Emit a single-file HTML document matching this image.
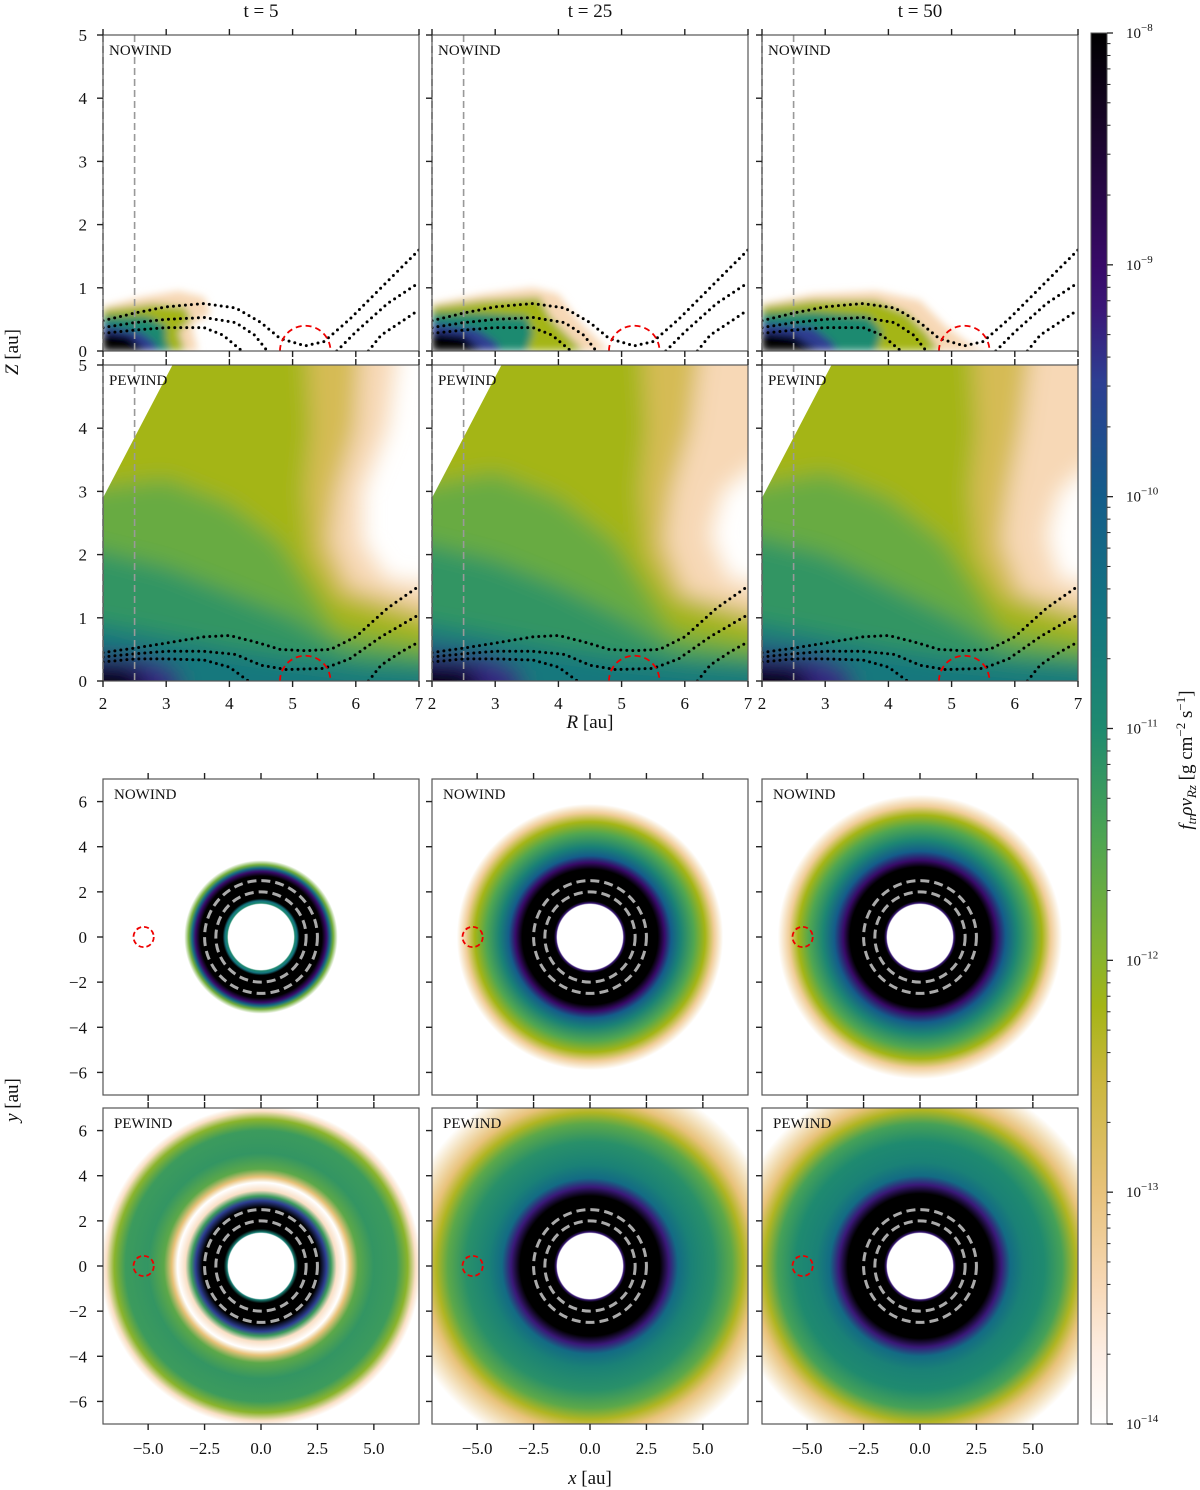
<!DOCTYPE html>
<html><head><meta charset="utf-8">
<style>
html,body{margin:0;padding:0;background:#fff;}
svg{display:block;font-family:"Liberation Serif","DejaVu Serif",serif;}
svg text{font-family:"Liberation Serif","DejaVu Serif",serif;}
</style></head>
<body>
<svg id="fig" xmlns="http://www.w3.org/2000/svg" width="1200" height="1490" viewBox="0 0 1200 1490">
<defs>
<filter id="blur" x="-20%" y="-20%" width="140%" height="140%"><feGaussianBlur stdDeviation="4"/></filter>
<filter id="blur3" x="-20%" y="-20%" width="140%" height="140%"><feGaussianBlur stdDeviation="11"/></filter>
</defs>
</svg>
<script>
// ---------- data ----------
var times = ["t = 5","t = 25","t = 50"];
var rTicks = [2,3,4,5,6,7];
var zTicks = [0,1,2,3,4,5];
var xTicks = [-5.0,-2.5,0.0,2.5,5.0];
var yTicks = [-6,-4,-2,0,2,4,6];
var cbarExp = [-8,-9,-10,-11,-12,-13,-14];
var planetR = 5.2, planetRad = 0.4, planetFaceRad = 0.45;
var guideR = [2.0,2.5];
// NOWIND RZ layers per time: [logValue, polygon (R,Z)]
var nowindLayers = [
 [[-13.4,[[2,0],[2,0.7],[2.6,0.85],[3.2,0.95],[3.6,0.85],[3.7,0.6],[3.4,0.4],[3.5,0]]],
  [-12.2,[[2,0],[2,0.65],[2.8,0.75],[3.3,0.7],[3.4,0.5],[3.2,0.3],[3.3,0]]],
  [-11,[[2,0],[2,0.55],[2.7,0.55],[3.0,0.4],[3.0,0.15],[3.1,0]]],
  [-9.5,[[2,0],[2,0.42],[2.6,0.3],[2.8,0.15],[2.9,0]]],
  [-8,[[2,0],[2,0.3],[2.4,0.25],[2.7,0]]]],
 [[-13.4,[[2,0],[2,0.75],[2.8,0.9],[3.6,1.0],[4.0,0.9],[4.3,0.5],[4.6,0.2],[4.8,0]]],
  [-12.2,[[2,0],[2,0.7],[2.8,0.8],[3.7,0.85],[3.9,0.5],[4.2,0.2],[4.4,0]]],
  [-11,[[2,0],[2,0.6],[2.7,0.6],[3.5,0.55],[3.6,0.3],[3.5,0]]],
  [-9.5,[[2,0],[2,0.45],[2.7,0.35],[3.0,0.15],[3.1,0]]],
  [-8,[[2,0],[2,0.3],[2.5,0.25],[2.8,0]]]],
 [[-13.4,[[2,0],[2,0.75],[2.8,0.9],[3.8,0.95],[4.5,0.8],[4.9,0.4],[5.3,0.1],[5.6,0]]],
  [-12.2,[[2,0],[2,0.7],[2.8,0.8],[3.8,0.8],[4.3,0.6],[4.6,0.3],[4.8,0]]],
  [-11,[[2,0],[2,0.6],[2.8,0.62],[3.7,0.55],[3.9,0.3],[3.8,0]]],
  [-9.5,[[2,0],[2,0.45],[2.8,0.38],[3.1,0.15],[3.2,0]]],
  [-8,[[2,0],[2,0.3],[2.5,0.25],[2.9,0]]]]
];
// PEWIND RZ layers
var pewindLayers = [
 [[-13.4,[[2,0],[2,5],[6.7,5],[6.5,4],[6.1,3],[6.1,2.2],[6.5,1.6],[7,1.5],[7,0]]],
  [-12.7,[[2,0],[2,5],[6.1,5],[6.0,4],[5.7,3],[5.6,2.2],[5.9,1.5],[7,1.0],[7,0]]],
  [-12.2,[[2,0],[2,5],[5.2,5],[5.3,4],[5.2,3],[5.3,2],[5.7,1.3],[7,0.8],[7,0]]],
  [-11.7,[[2,0],[2,3.0],[3,3.2],[4,2.8],[4.8,2.2],[5.3,1.4],[5.7,0.8],[7,0.5],[7,0]]],
  [-11.2,[[2,0],[2,2.2],[3,1.8],[4,1.4],[5,1.0],[5.8,0.5],[7,0.3],[7,0]]],
  [-13.5,[[3.3,0],[3.4,0.25],[3.8,0.3],[3.9,0.1],[3.8,0]]],
  [-10.6,[[2,0],[2,1.0],[3,0.7],[4,0.5],[5,0.35],[6.2,0.2],[7,0.15],[7,0]]],
  [-9.3,[[2,0],[2,0.5],[2.7,0.38],[3.2,0.15],[3.3,0]]],
  [-8,[[2,0],[2,0.3],[2.5,0.22],[2.9,0]]]],
 [[-13.4,[[2,0],[2,5],[7,5],[7,3.8],[6.6,3],[6.4,2.3],[6.7,1.6],[7,1.5],[7,0]]],
  [-12.7,[[2,0],[2,5],[6.3,5],[6.1,4],[5.8,3],[5.7,2.2],[6.0,1.4],[7,1.0],[7,0]]],
  [-12.2,[[2,0],[2,5],[5.3,5],[5.4,4],[5.3,3],[5.4,2],[5.8,1.3],[7,0.8],[7,0]]],
  [-11.7,[[2,0],[2,3.0],[3,3.3],[4,2.9],[4.9,2.2],[5.4,1.4],[5.8,0.8],[7,0.5],[7,0]]],
  [-11.2,[[2,0],[2,2.3],[3,1.9],[4,1.5],[5,1.0],[5.8,0.5],[7,0.3],[7,0]]],
  [-10.6,[[2,0],[2,1.0],[3,0.7],[4,0.5],[5,0.35],[6.2,0.25],[7,0.2],[7,0]]],
  [-9.3,[[2,0],[2,0.55],[2.9,0.4],[3.4,0.15],[3.5,0]]],
  [-8,[[2,0],[2,0.3],[2.6,0.22],[3.0,0]]]],
 [[-13.4,[[2,0],[2,5],[7,5],[7,3.8],[6.7,3],[6.5,2.3],[6.7,1.6],[7,1.5],[7,0]]],
  [-12.7,[[2,0],[2,5],[6.3,5],[6.1,4],[5.9,3],[5.8,2.2],[6.1,1.4],[7,1.0],[7,0]]],
  [-12.2,[[2,0],[2,5],[5.3,5],[5.4,4],[5.3,3],[5.4,2],[5.8,1.3],[7,0.8],[7,0]]],
  [-11.7,[[2,0],[2,3.0],[3,3.3],[4,2.9],[4.9,2.2],[5.4,1.4],[5.8,0.8],[7,0.5],[7,0]]],
  [-11.2,[[2,0],[2,2.4],[3,2.0],[4,1.5],[5,1.0],[5.8,0.5],[7,0.3],[7,0]]],
  [-10.6,[[2,0],[2,1.0],[3,0.7],[4,0.5],[5,0.35],[6.2,0.25],[7,0.2],[7,0]]],
  [-9.3,[[2,0],[2,0.55],[2.9,0.4],[3.4,0.15],[3.5,0]]],
  [-8,[[2,0],[2,0.3],[2.6,0.22],[3.0,0]]]]
];
var pewindDomain = [[2,0],[2,2.9],[3.1,5],[7,5],[7,0]];
// magnetic field lines (R,Z), dotted
var fieldNowind = [
 [[2,0.48],[2.5,0.6],[3,0.7],[3.6,0.75],[4.1,0.68],[4.5,0.45],[4.8,0.2],[5.2,0.08],[5.5,0.15],[5.9,0.5],[6.4,1.0],[7,1.6]],
 [[2,0.37],[2.5,0.45],[3,0.5],[3.6,0.53],[4.1,0.45],[4.4,0.25],[4.6,0]],
 [[5.7,0],[6.0,0.3],[6.5,0.75],[7,1.08]],
 [[2,0.28],[2.5,0.33],[3,0.37],[3.6,0.37],[3.9,0.25],[4.2,0]],
 [[6.2,0],[6.4,0.25],[6.7,0.45],[7,0.65]]
];
var fieldPewind = [
 [[2,0.45],[2.5,0.52],[3,0.6],[3.6,0.7],[4.0,0.72],[4.4,0.62],[4.8,0.5],[5.2,0.48],[5.6,0.5],[6.0,0.7],[6.5,1.15],[7,1.5]],
 [[2,0.38],[2.5,0.43],[3,0.47],[3.6,0.47],[4.1,0.42],[4.5,0.25],[4.9,0.18],[5.5,0.2],[5.9,0.35],[6.4,0.7],[7,1.05]],
 [[2,0.3],[2.5,0.35],[3,0.35],[3.6,0.33],[4.0,0.22],[4.3,0]],
 [[6.2,0],[6.4,0.25],[6.7,0.45],[7,0.62]]
];
// face-on radial profiles: [radius au, log value]
var faceNowind = [
 [[0,-14],[1.45,-14],[1.5,-11],[1.6,-10.5],[1.7,-8],[2.7,-8],[2.9,-9],[3.05,-10.3],[3.2,-11.8],[3.4,-14],[7.5,-14]],
 [[0,-14],[1.45,-14],[1.5,-9.2],[1.6,-8],[3.0,-8],[3.3,-9],[3.6,-10],[4.0,-10.8],[4.6,-11.5],[5.1,-12.2],[5.5,-13.2],[5.9,-14],[7.5,-14]],
 [[0,-14],[1.45,-14],[1.5,-9.2],[1.6,-8],[3.1,-8],[3.4,-9],[3.8,-10],[4.3,-10.9],[4.9,-11.5],[5.4,-12.2],[5.8,-13.2],[6.3,-14],[7.5,-14]]
];
var facePewind = [
 [[0,-14],[1.45,-14],[1.5,-10.8],[1.65,-8],[2.6,-8],[2.9,-9.5],[3.1,-11.3],[3.35,-13.5],[3.7,-14],[3.95,-13],[4.3,-11.6],[5,-11.2],[6,-11.3],[6.5,-12],[6.85,-13.5],[7.1,-14],[7.5,-14]],
 [[0,-14],[1.45,-14],[1.5,-9.2],[1.6,-8],[3.1,-8],[3.5,-9.2],[3.9,-10.3],[4.5,-10.8],[5.5,-11.1],[6.3,-11.6],[6.8,-12.3],[7.3,-13],[8.5,-14]],
 [[0,-14],[1.45,-14],[1.5,-9.2],[1.6,-8],[3.2,-8],[3.6,-9.2],[4.0,-10.3],[4.6,-10.8],[5.5,-11.0],[6.3,-11.4],[6.9,-12.3],[7.4,-13],[8.5,-14]]
];
var cmapT = [0,0.05,0.1,0.167,0.25,0.3,0.333,0.42,0.5,0.58,0.667,0.75,0.8,0.833,0.92,1];
var cmapC = ["#ffffff","#fdeee4","#f7d8b6","#e8c27a","#c9b63a","#a4b516","#8ab42c","#4ea552","#1f8a6f","#137580","#145d8a","#2d3e92","#3a1878","#380a68","#1c0630","#000000"];

// ---------- helpers ----------
var NS="http://www.w3.org/2000/svg", svg=document.getElementById('fig'), defs=svg.querySelector('defs');
function mk(tag,attrs,parent){var e=document.createElementNS(NS,tag);for(var k in attrs)e.setAttribute(k,attrs[k]);(parent||svg).appendChild(e);return e;}
function hex(c){return [parseInt(c.substr(1,2),16),parseInt(c.substr(3,2),16),parseInt(c.substr(5,2),16)];}
function cmap(e){var t=Math.max(0,Math.min(1,(e+14)/6));for(var i=1;i<cmapT.length;i++){if(t<=cmapT[i]){var f=(t-cmapT[i-1])/(cmapT[i]-cmapT[i-1]);var a=hex(cmapC[i-1]),b=hex(cmapC[i]);return 'rgb('+[0,1,2].map(function(j){return Math.round(a[j]+(b[j]-a[j])*f);}).join(',')+')';}}return cmapC[cmapC.length-1];}
function txt(s,x,y,attrs,parent){var t=mk('text',Object.assign({x:x,y:y,'font-size':17,fill:'#111','font-family':'Liberation Serif, serif'},attrs||{}),parent);t.textContent=s;return t;}

var colX=[103,432,762], PW=316;
var rzTop=[35,365], xyTop=[779,1108], PH=316;
function rzScale(c,r){var x0=colX[c],y0=rzTop[r];return {x:function(R){return x0+(R-2)/5*PW;},y:function(Z){return y0+PH-Z/5*PH;}};}
function xyScale(c,r){var x0=colX[c],y0=xyTop[r];return {x:function(X){return x0+(X+7)/14*PW;},y:function(Y){return y0+PH-(Y+7)/14*PH;},k:PW/14};}
function pts(arr,s){return arr.map(function(p){return s.x(p[0]).toFixed(1)+','+s.y(p[1]).toFixed(1);}).join(' ');}
// extend polygon vertices lying on the domain edge so blur does not fade at edges
function ext(arr){return arr.map(function(p){var R=p[0],Z=p[1];if(R<=2)R=1.4;if(R>=7)R=7.6;if(Z<=0)Z=-0.6;if(Z>=5)Z=5.6;return [R,Z];});}

// ---------- titles ----------
times.forEach(function(t,c){
  var e=txt(t,colX[c]+PW/2,17,{'text-anchor':'middle','font-size':19});
  
  
});

// ---------- RZ panels ----------
for(var r=0;r<2;r++){for(var c=0;c<3;c++){
  var s=rzScale(c,r), g=mk('g',{});
  
  
  var cid='clip-rz-'+r+'-'+c, cp=mk('clipPath',{id:cid},defs);
  if(r==0) mk('rect',{x:colX[c],y:rzTop[r],width:PW,height:PH},cp);
  else mk('polygon',{points:pts(pewindDomain,s)},cp);
  var fg=mk('g',{'clip-path':'url(#'+cid+')'},g);
  var inner=mk('g',{filter:r==0?'url(#blur)':'url(#blur3)'},fg);
  var layers=(r==0?nowindLayers:pewindLayers)[c];
  layers.forEach(function(L,i){
    var p=mk('polygon',{points:pts(r==0?L[1]:ext(L[1]),s),fill:cmap(L[0])},inner);
    
    
  });
  guideR.forEach(function(R){var l=mk('line',{x1:s.x(R),x2:s.x(R),y1:rzTop[r],y2:rzTop[r]+PH,stroke:'#999','stroke-width':1.6,'stroke-dasharray':'7,4'},g);
    
    });
  (r==0?fieldNowind:fieldPewind).forEach(function(f){
    var pl=mk('polyline',{points:pts(f,s),fill:'none',stroke:'#000','stroke-width':3,'stroke-dasharray':'0,6','stroke-linecap':'round','stroke-linejoin':'round'},fg);
    
    
  });
  var rx=planetRad/5*PW, ry=planetRad/5*PH;
  var ph=mk('path',{d:'M'+(s.x(planetR)-rx)+','+s.y(0)+' A'+rx+','+ry+' 0 0 1 '+(s.x(planetR)+rx)+','+s.y(0),fill:'none',stroke:'#e00','stroke-width':1.8,'stroke-dasharray':'6,4'},fg);
  
  
  var fr=mk('rect',{x:colX[c],y:rzTop[r],width:PW,height:PH,fill:'none',stroke:'#555','stroke-width':1.2},g);
  
  
  var lb=txt(r==0?'NOWIND':'PEWIND',colX[c]+6,rzTop[r]+20,{'font-size':15},g);
  
  
  rTicks.forEach(function(R){
    mk('line',{x1:s.x(R),x2:s.x(R),y1:rzTop[r]+PH,y2:rzTop[r]+PH+6,stroke:'#222','stroke-width':1.4},g);
    mk('line',{x1:s.x(R),x2:s.x(R),y1:rzTop[r],y2:rzTop[r]-6,stroke:'#222','stroke-width':1.4},g);
    if(r==1){var tl=txt(String(R),s.x(R),rzTop[r]+PH+28,{'text-anchor':'middle'},g);
      
      }
  });
  zTicks.forEach(function(Z){
    mk('line',{x1:colX[c],x2:colX[c]-6,y1:s.y(Z),y2:s.y(Z),stroke:'#222','stroke-width':1.4},g);
    if(c==0){var tl=txt(String(Z),colX[c]-16,s.y(Z)+6,{'text-anchor':'end'},g);
      
      }
  });
}}

// ---------- XY panels ----------
for(var r=0;r<2;r++){for(var c=0;c<3;c++){
  var s=xyScale(c,r), g=mk('g',{});
  
  
  var cid='clip-xy-'+r+'-'+c, cp=mk('clipPath',{id:cid},defs);
  mk('rect',{x:colX[c],y:xyTop[r],width:PW,height:PH},cp);
  var fg=mk('g',{'clip-path':'url(#'+cid+')'},g);
  var prof=(r==0?faceNowind:facePewind)[c];
  var Rmax=prof[prof.length-1][0];
  var gid='rg-'+r+'-'+c, rg=mk('radialGradient',{id:gid,cx:s.x(0),cy:s.y(0),r:Rmax*s.k,gradientUnits:'userSpaceOnUse'},defs);
  prof.forEach(function(p){mk('stop',{offset:(p[0]/Rmax).toFixed(4),'stop-color':cmap(p[1])},rg);});
  var disk=mk('circle',{cx:s.x(0),cy:s.y(0),r:Rmax*s.k,fill:'url(#'+gid+')'},fg);
  
  
  guideR.forEach(function(R){var ci=mk('circle',{cx:s.x(0),cy:s.y(0),r:R*s.k,fill:'none',stroke:'#aaa','stroke-width':3,'stroke-dasharray':'9,5'},fg);
    
    });
  var pc=mk('circle',{cx:s.x(-planetR),cy:s.y(0),r:planetFaceRad*s.k,fill:'none',stroke:'#e00','stroke-width':1.8,'stroke-dasharray':'5,3'},fg);
  
  
  var fr=mk('rect',{x:colX[c],y:xyTop[r],width:PW,height:PH,fill:'none',stroke:'#555','stroke-width':1.2},g);
  
  
  var lb=txt(r==0?'NOWIND':'PEWIND',colX[c]+11,xyTop[r]+20,{'font-size':15},g);
  
  
  xTicks.forEach(function(X){
    mk('line',{x1:s.x(X),x2:s.x(X),y1:xyTop[r]+PH,y2:xyTop[r]+PH+6,stroke:'#222','stroke-width':1.4},g);
    mk('line',{x1:s.x(X),x2:s.x(X),y1:xyTop[r],y2:xyTop[r]-6,stroke:'#222','stroke-width':1.4},g);
    if(r==1){var tl=txt(X.toFixed(1).replace('-','\u2212'),s.x(X),xyTop[r]+PH+30,{'text-anchor':'middle'},g);
      
      }
  });
  yTicks.forEach(function(Y){
    mk('line',{x1:colX[c],x2:colX[c]-6,y1:s.y(Y),y2:s.y(Y),stroke:'#222','stroke-width':1.4},g);
    if(c==0){var tl=txt(String(Y).replace('-','\u2212'),colX[c]-16,s.y(Y)+6,{'text-anchor':'end'},g);
      
      }
  });
}}

// ---------- axis titles ----------
function axTitle(main,rest,x,y,rot,name){
  var t=mk('text',{x:x,y:y,'font-size':19,fill:'#111','text-anchor':'middle','font-family':'Liberation Serif, serif',transform:rot?'rotate(-90 '+x+' '+y+')':''});
  var a=mk('tspan',{'font-style':'italic'},t);a.textContent=main;
  var b=mk('tspan',{},t);b.textContent=rest;
  
  
}
axTitle('Z',' [au]',18,352,true,'z-axis-title');
axTitle('R',' [au]',590,728,false,'r-axis-title');
axTitle('y',' [au]',18,1100,true,'y-axis-title');
axTitle('x',' [au]',590,1484,false,'x-axis-title');

// ---------- colorbar ----------
var cbX=1091,cbW=16,cbTop=33,cbBot=1424;
var lg=mk('linearGradient',{id:'cbg',x1:0,y1:1,x2:0,y2:0},defs);
cmapT.forEach(function(t,i){mk('stop',{offset:t,'stop-color':cmapC[i]},lg);});
var cb=mk('rect',{x:cbX,y:cbTop,width:cbW,height:cbBot-cbTop,fill:'url(#cbg)',stroke:'#555','stroke-width':1});


function cbY(e){return cbBot-(e+14)/6*(cbBot-cbTop);}
cbarExp.forEach(function(e){
  mk('line',{x1:cbX+cbW,x2:cbX+cbW+6,y1:cbY(e),y2:cbY(e),stroke:'#222','stroke-width':1.3});
  var t=mk('text',{x:cbX+cbW+19,y:cbY(e)+5,'font-size':15,fill:'#111','font-family':'Liberation Serif, serif'});
  var a=mk('tspan',{},t);a.textContent='10';
  var b=mk('tspan',{dy:-7,'font-size':11},t);b.textContent='\u2212'+(-e);
  
  
  if(e>-14){for(var m=2;m<10;m++){var ym=cbY(e-1+Math.log10(m));mk('line',{x1:cbX+cbW,x2:cbX+cbW+3.5,y1:ym,y2:ym,stroke:'#222','stroke-width':1});}}
});
var ct=mk('text',{x:1192,y:760,'font-size':19,fill:'#111','text-anchor':'middle','font-family':'Liberation Serif, serif',transform:'rotate(-90 1192 760)'});


var p1=mk('tspan',{'font-style':'italic'},ct);p1.textContent='f';
var p2=mk('tspan',{'font-style':'italic','font-size':13,dy:4},ct);p2.textContent='tr';
var p3=mk('tspan',{'font-style':'italic',dy:-4},ct);p3.textContent='\u03c1v';
var p4=mk('tspan',{'font-style':'italic','font-size':13,dy:4},ct);p4.textContent='Rz';
var p5=mk('tspan',{dy:-4},ct);p5.textContent=' [g cm';
var p6=mk('tspan',{'font-size':13,dy:-7},ct);p6.textContent='\u22122';
var p7=mk('tspan',{dy:7},ct);p7.textContent=' s';
var p8=mk('tspan',{'font-size':13,dy:-7},ct);p8.textContent='\u22121';
var p9=mk('tspan',{dy:7},ct);p9.textContent=']';
</script>
</body></html>
